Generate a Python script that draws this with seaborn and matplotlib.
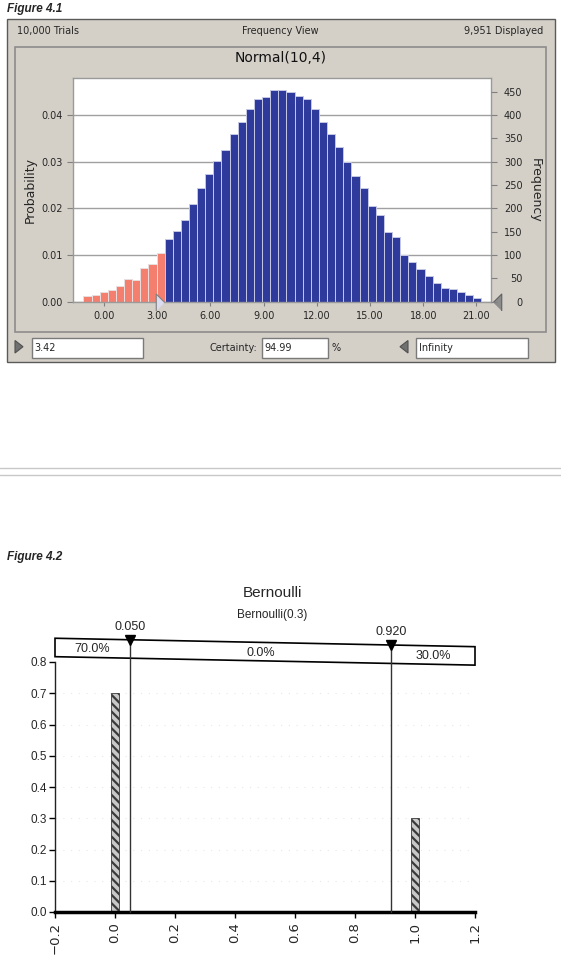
import numpy as np
import matplotlib
matplotlib.use('Agg')
import matplotlib.pyplot as plt
from matplotlib.patches import Rectangle, Polygon
from matplotlib.transforms import offset_copy
import seaborn as sns

# Figure 4.1 : Normal(10,4) frequency chart, 10,000 trials, 49 bins
freq_counts = [12, 15, 20, 26, 34, 49, 46, 73, 81, 104,
               135, 152, 176, 209, 243, 273, 302, 325, 359, 386,
               412, 434, 438, 454, 454, 450, 441, 434, 412, 386,
               359, 332, 299, 270, 243, 205, 185, 149, 138, 101,
               86, 71, 56, 41, 30, 28, 21, 15, 8]
n_trials = 10000
n_displayed = 9951
hist_range = (-1.16, 21.28)
lower_cut = 3.42
certainty = 94.99
hist_xticks = [0, 3, 6, 9, 12, 15, 18, 21]
prob_ticks = [0.0, 0.01, 0.02, 0.03, 0.04]
freq_ticks = [0, 50, 100, 150, 200, 250, 300, 350, 400, 450]

# Figure 4.2 : Bernoulli(0.3)
outcomes = [0, 1]
outcome_probs = [0.7, 0.3]
cuts = [0.05, 0.92]
band_labels = ['70.0%', '0.0%', '30.0%']
bern_xticks = [-0.2, 0.0, 0.2, 0.4, 0.6, 0.8, 1.0, 1.2]
bern_yticks = [0.0, 0.1, 0.2, 0.3, 0.4, 0.5, 0.6, 0.7, 0.8]

sns.set_style('white')
plt.rcParams['font.family'] = ['DejaVu Sans']
plt.rcParams['hatch.linewidth'] = 1.6
narrow = ['Liberation Sans']

W, H = 561, 958
fig = plt.figure(figsize=(W / 100, H / 100), dpi=100)


def rect(l, t, r, b):
    return [l / W, 1 - b / H, (r - l) / W, (b - t) / H]


# background layer in pixel coordinates
bg = fig.add_axes([0, 0, 1, 1], zorder=0)
bg.set_xlim(0, W)
bg.set_ylim(H, 0)
bg.axis('off')

bg.text(7, 8.5, 'Figure 4.1', fontsize=8.5, fontweight='bold', fontstyle='italic',
        family=['Liberation Sans'], ha='left', va='center')
bg.add_patch(Rectangle((6.7, 19), 548.3, 342.7, fc='#d4d0c8', ec='#5a5a5a', lw=1))
bg.add_patch(Rectangle((15, 46.7), 530.7, 285, fc='none', ec='#8c8c8c', lw=1.2))
bg.text(16.7, 31, f'{n_trials:,} Trials', fontsize=7, ha='left', va='center')
bg.text(280, 31, 'Frequency View', fontsize=7, ha='center', va='center')
bg.text(543.3, 31, f'{n_displayed:,} Displayed', fontsize=7, ha='right', va='center')
bg.text(281, 58, 'Normal(10,4)', fontsize=10, ha='center', va='center', color='#111111')
bg.text(30, 190, 'Probability', fontsize=9, rotation=90, ha='center', va='center')
bg.text(535, 190, 'Frequency', fontsize=9, rotation=270, ha='center', va='center')

# certainty controls
for x0, w in [(31.7, 111.6), (262, 66), (416, 112)]:
    bg.add_patch(Rectangle((x0, 337.7), w, 20.6, fc='white', ec='#7a7a7a', lw=1))
bg.add_patch(Polygon([(15, 340.5), (15, 353), (23, 346.7)], closed=True,
                     fc='#707070', ec='#505050', lw=0.8))
bg.add_patch(Polygon([(408, 340.5), (408, 353), (400, 346.7)], closed=True,
                     fc='#707070', ec='#505050', lw=0.8))
bg.text(34, 348, f'{lower_cut:.2f}', fontsize=7, ha='left', va='center')
bg.text(257, 348, 'Certainty:', fontsize=7, ha='right', va='center')
bg.text(264, 348, f'{certainty:.2f}', fontsize=7, ha='left', va='center')
bg.text(336, 348, '%', fontsize=7, ha='center', va='center')
bg.text(419, 348, 'Infinity', fontsize=7, ha='left', va='center')

# separator between the two figures
bg.plot([0, W], [468.3, 468.3], color='#c8c8c8', lw=1)
bg.plot([0, W], [475, 475], color='#c8c8c8', lw=1)

bg.text(7.3, 556.7, 'Figure 4.2', fontsize=8.5, fontweight='bold', fontstyle='italic',
        family=['Liberation Sans'], ha='left', va='center')
bg.text(272.6, 593.3, 'Bernoulli', fontsize=11, family=narrow, ha='center', va='center')
bg.text(272.6, 615, 'Bernoulli(0.3)', fontsize=8.5, family=narrow, ha='center', va='center')

# ---------------- Figure 4.1 histogram ----------------
ax1 = fig.add_axes(rect(72.7, 78.3, 491.3, 301.7), zorder=2)
ax1.set_facecolor('white')
edges = np.linspace(hist_range[0], hist_range[1], len(freq_counts) + 1)
centers = (edges[:-1] + edges[1:]) / 2
probs = np.array(freq_counts) / n_trials
n_red = int(np.sum(centers < lower_cut))

sns.histplot(x=list(centers[:n_red]), weights=list(probs[:n_red]),
             bins=edges[:n_red + 1].tolist(),
             color='#f47f6f', edgecolor='#e8dede', linewidth=0.7, alpha=1, ax=ax1)
sns.histplot(x=list(centers[n_red:]), weights=list(probs[n_red:]),
             bins=edges[n_red:].tolist(),
             color='#2e3a9c', edgecolor='#c4c8e4', linewidth=0.7, alpha=1, ax=ax1)

top_freq = 478.7
ax1.set_xlim(-1.765, 21.84)
ax1.set_ylim(0, top_freq / n_trials)
ax1.set_xlabel('')
ax1.set_ylabel('')
ax1.set_xticks(hist_xticks)
ax1.set_xticklabels([f'{v:.2f}' for v in hist_xticks])
ax1.set_yticks(prob_ticks)
ax1.set_yticklabels([f'{v:.2f}' for v in prob_ticks])
ax1.set_axisbelow(True)
ax1.yaxis.grid(True, color='#a0a0a0', lw=1)
ax1.xaxis.grid(False)
ax1.tick_params(axis='x', bottom=True, length=3, color='#808080', labelsize=7, pad=3.5)
ax1.tick_params(axis='y', left=True, length=4, color='#808080', labelsize=7, pad=3.4)
for s in ax1.spines.values():
    s.set_color('#9a9a9a')
    s.set_linewidth(1)

ax1r = ax1.twinx()
ax1r.set_zorder(3)
ax1r.set_ylim(0, top_freq)
ax1r.set_yticks(freq_ticks)
ax1r.set_yticklabels([str(v) for v in freq_ticks])
ax1r.tick_params(axis='y', right=True, length=4, color='#808080', labelsize=7, pad=18.4)
for lab in ax1r.get_yticklabels():
    lab.set_horizontalalignment('right')
for s in ax1r.spines.values():
    s.set_visible(False)

# certainty sliders
ax1.plot([lower_cut], [0], marker=[(-0.5, -1), (-0.5, 1), (0.5, 0)], ms=12.2,
         mfc='#dcdcf0', mec='#808080', mew=0.8, clip_on=False, zorder=5,
         transform=offset_copy(ax1.transData, fig, x=-4.2, y=0, units='dots'))
ax1.plot([1.0], [0], marker=[(0.5, -1), (0.5, 1), (-0.5, 0)], ms=12.2,
         mfc='#8c8c8c', mec='#606060', mew=0.8, clip_on=False, zorder=5,
         transform=offset_copy(ax1.transAxes, fig, x=6, y=0, units='dots'))

# ---------------- Figure 4.2 Bernoulli ----------------
ax2 = fig.add_axes(rect(55, 662, 475, 912), zorder=2)
ax2.patch.set_visible(False)
sns.barplot(x=outcomes, y=outcome_probs, native_scale=True, width=0.025,
            color='#c8c8c8', edgecolor='#3a3a3a', linewidth=0.6, errorbar=None,
            saturation=1, ax=ax2)
for p in ax2.patches:
    p.set_hatch('\\\\\\\\')

ax2.set_xlim(bern_xticks[0], bern_xticks[-1])
ax2.set_ylim(0, 0.8)
for y in bern_yticks[1:-1]:
    ax2.axhline(y, color='#e8e8e8', lw=0.8, ls=(0, (1, 6)), zorder=0)

# percentile band above the plot (scan is slightly tilted)
yl_top, yr_top = 0.876, 0.849
yl_bot, yr_bot = 0.817, 0.790


def along(x, yl, yr):
    return yl + (x - bern_xticks[0]) / (bern_xticks[-1] - bern_xticks[0]) * (yr - yl)


band = Polygon([(bern_xticks[0], yl_bot), (bern_xticks[-1], yr_bot),
                (bern_xticks[-1], yr_top), (bern_xticks[0], yl_top)],
               closed=True, fc='white', ec='black', lw=1.2, clip_on=False, zorder=3)
ax2.add_patch(band)

for c in cuts:
    yt = along(c, yl_top, yr_top)
    ax2.plot([c, c], [0, yt], color='#333333', lw=1, clip_on=False, zorder=4)
    ax2.plot([c], [yt], marker='v', ms=6.5, color='black', clip_on=False, zorder=5)
    ax2.annotate(f'{c:.3f}', (c, yt), xytext=(0, 5), textcoords='offset points',
                 ha='center', va='bottom', fontsize=9, family=narrow,
                 annotation_clip=False)

bounds = [bern_xticks[0]] + cuts + [bern_xticks[-1]]
for i, lab in enumerate(band_labels):
    xm = (bounds[i] + bounds[i + 1]) / 2
    ym = (along(xm, yl_top, yr_top) + along(xm, yl_bot, yr_bot)) / 2
    ax2.text(xm, ym - 0.004, lab, ha='center', va='center', fontsize=9,
             family=narrow, zorder=6, clip_on=False)

ax2.set_xticks(bern_xticks)
ax2.set_xticklabels([f'{v:.1f}'.replace('-', '\u2212') for v in bern_xticks],
                    rotation=90, fontsize=9.5)
ax2.set_yticks(bern_yticks)
ax2.set_yticklabels([f'{v:.1f}' for v in bern_yticks], fontsize=8.5, family=narrow)
ax2.tick_params(axis='x', bottom=True, length=4, width=1, color='black', pad=3)
ax2.tick_params(axis='y', left=True, length=4, width=1, color='black', pad=2)
ax2.set_xlabel('')
ax2.set_ylabel('')
ax2.spines['top'].set_visible(False)
ax2.spines['right'].set_visible(False)
ax2.spines['left'].set_color('#222222')
ax2.spines['left'].set_linewidth(1)
ax2.spines['bottom'].set_color('black')
ax2.spines['bottom'].set_linewidth(2.5)

fig.savefig('out.png', dpi=100)
